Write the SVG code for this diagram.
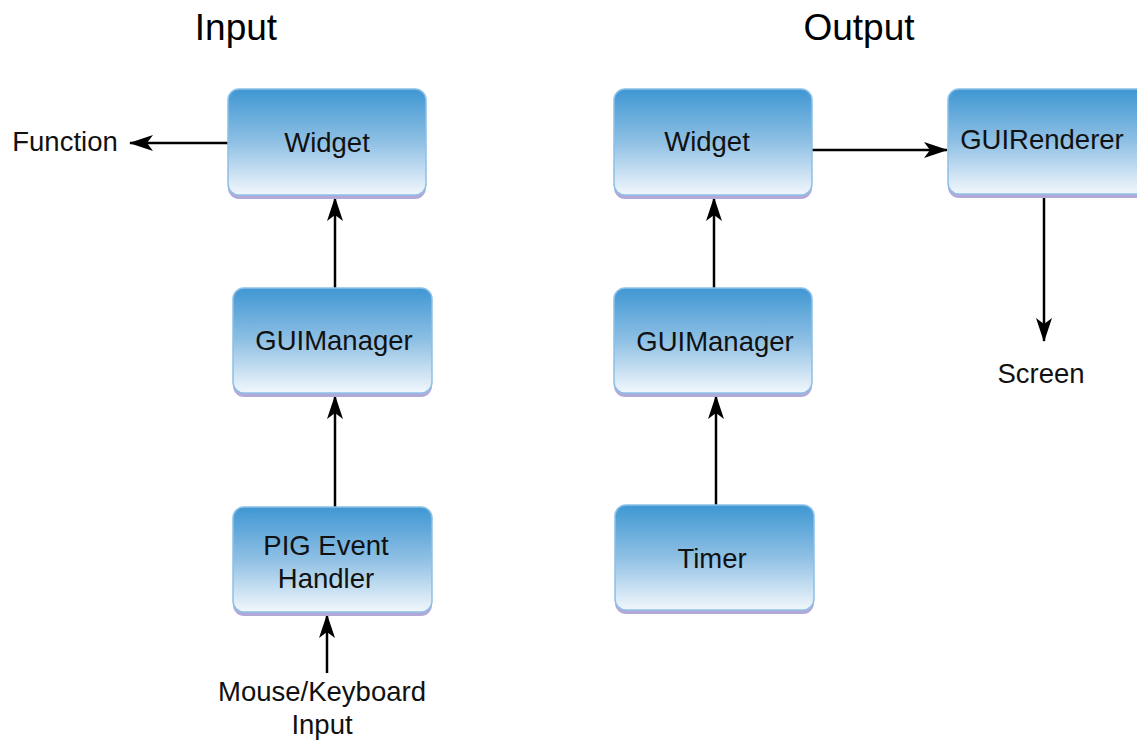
<svg xmlns="http://www.w3.org/2000/svg" width="1137" height="742" viewBox="0 0 1137 742">
<defs>
<linearGradient id="g" x1="0" y1="0" x2="0" y2="1">
<stop offset="0" stop-color="#3f97d3"/>
<stop offset="0.5" stop-color="#8fc0e4"/>
<stop offset="1" stop-color="#f2f7fc"/>
</linearGradient>
<marker id="ah" viewBox="0 0 24 16" refX="23" refY="8" markerWidth="24" markerHeight="16" markerUnits="userSpaceOnUse" orient="auto">
<path d="M0,0 L24,8 L0,16 L6,8 Z" fill="#000"/>
</marker>
<style>
.sh{fill:#b3a9d9;}
.bx{fill:url(#g);stroke:#8cc0e6;stroke-width:1.5;}
.t{font-family:"Liberation Sans",Arial,sans-serif;font-size:27.5px;fill:#111;text-anchor:middle;}
.h{font-family:"Liberation Sans",Arial,sans-serif;font-size:37px;fill:#000;text-anchor:middle;}
.c{stroke:#000;stroke-width:2.5;fill:none;marker-end:url(#ah);}
</style>
</defs>
<rect width="1137" height="742" fill="#fff"/>
<text class="h" x="236" y="40">Input</text>
<text class="h" x="859" y="40">Output</text>
<g id="connectors">
<line class="c" x1="228" y1="143" x2="130" y2="143"/>
<line class="c" x1="335" y1="288" x2="335" y2="198"/>
<line class="c" x1="335" y1="507" x2="335" y2="396"/>
<line class="c" x1="327" y1="673" x2="327" y2="615"/>
<line class="c" x1="714" y1="288" x2="714" y2="198"/>
<line class="c" x1="716" y1="505" x2="716" y2="396"/>
<line class="c" x1="812" y1="150" x2="947" y2="150"/>
<line class="c" x1="1044" y1="197" x2="1044" y2="341"/>
</g>
<g id="in-widget"><rect class="sh" x="228" y="92" width="198" height="107" rx="11"/><rect class="bx" x="228" y="89" width="198" height="106" rx="11"/><text class="t" x="327" y="152">Widget</text></g>
<g id="in-guimanager"><rect class="sh" x="233" y="291" width="199" height="106" rx="11"/><rect class="bx" x="233" y="288" width="199" height="105" rx="11"/><text class="t" x="334" y="350">GUIManager</text></g>
<g id="pig"><rect class="sh" x="233" y="510" width="199" height="106" rx="11"/><rect class="bx" x="233" y="507" width="199" height="105" rx="11"/><text class="t" x="326" y="555">PIG Event</text><text class="t" x="326" y="588">Handler</text></g>
<g id="out-widget"><rect class="sh" x="614" y="92" width="198" height="107" rx="11"/><rect class="bx" x="614" y="89" width="198" height="106" rx="11"/><text class="t" x="707" y="151">Widget</text></g>
<g id="out-guimanager"><rect class="sh" x="614" y="291" width="198" height="106" rx="11"/><rect class="bx" x="614" y="288" width="198" height="105" rx="11"/><text class="t" x="715" y="351">GUIManager</text></g>
<g id="timer"><rect class="sh" x="615" y="508" width="199" height="106" rx="11"/><rect class="bx" x="615" y="505" width="199" height="105" rx="11"/><text class="t" x="712" y="568">Timer</text></g>
<g id="guirenderer"><rect class="sh" x="948" y="92" width="200" height="106" rx="11"/><rect class="bx" x="948" y="89" width="200" height="105" rx="11"/><text class="t" x="1042" y="149">GUIRenderer</text></g>
<g id="labels">
<text class="t" x="65" y="151">Function</text>
<text class="t" x="1041" y="383">Screen</text>
<text class="t" x="322" y="701">Mouse/Keyboard</text>
<text class="t" x="322" y="734">Input</text>
</g>
</svg>
